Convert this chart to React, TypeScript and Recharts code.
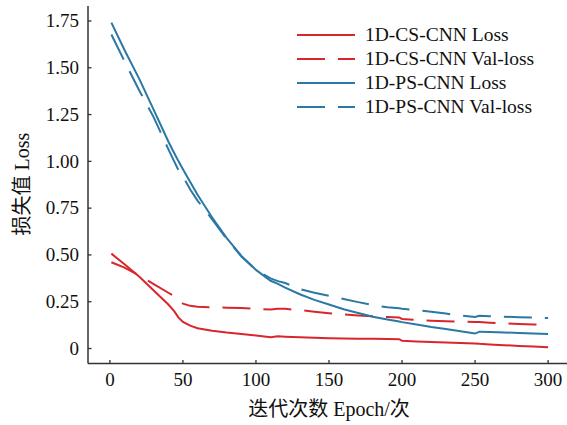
import React from "react";
import { LineChart, Line, XAxis, YAxis, Legend } from "recharts";

const epochs = [1, 10, 20, 30, 40, 44, 47, 50, 55, 60, 70, 80, 90, 100, 110, 115, 120, 130, 140, 150, 160, 170, 180, 190, 198, 200, 210, 220, 230, 240, 250, 253, 260, 270, 280, 290, 300];

const csLoss = [0.507, 0.45, 0.385, 0.31, 0.235, 0.2, 0.165, 0.142, 0.122, 0.108, 0.095, 0.085, 0.077, 0.07, 0.06, 0.065, 0.063, 0.06, 0.057, 0.055, 0.053, 0.052, 0.052, 0.051, 0.05, 0.042, 0.038, 0.035, 0.032, 0.029, 0.027, 0.025, 0.022, 0.018, 0.014, 0.011, 0.007];

const csVal = [0.461, 0.432, 0.39, 0.344, 0.298, 0.28, 0.255, 0.24, 0.228, 0.223, 0.22, 0.218, 0.216, 0.213, 0.208, 0.213, 0.212, 0.205, 0.197, 0.189, 0.182, 0.177, 0.172, 0.168, 0.166, 0.158, 0.152, 0.149, 0.146, 0.143, 0.142, 0.142, 0.138, 0.134, 0.131, 0.129, 0.127];

const psLoss = [1.741, 1.595, 1.442, 1.275, 1.106, 1.045, 1.0, 0.958, 0.89, 0.822, 0.7, 0.59, 0.495, 0.42, 0.362, 0.345, 0.325, 0.29, 0.26, 0.235, 0.21, 0.19, 0.17, 0.155, 0.144, 0.141, 0.128, 0.115, 0.104, 0.092, 0.08, 0.09, 0.088, 0.086, 0.083, 0.08, 0.078];

const psVal = [1.678, 1.535, 1.38, 1.235, 1.065, 1.0, 0.952, 0.92, 0.85, 0.79, 0.69, 0.585, 0.492, 0.42, 0.375, 0.36, 0.35, 0.318, 0.298, 0.282, 0.265, 0.248, 0.232, 0.22, 0.215, 0.213, 0.205, 0.197, 0.187, 0.176, 0.169, 0.175, 0.172, 0.17, 0.167, 0.165, 0.163];

const xTicks = [0, 50, 100, 150, 200, 250, 300];
const yTicks = [0, 0.25, 0.5, 0.75, 1.0, 1.25, 1.5, 1.75];
const yTickLabels = ["0", "0.25", "0.50", "0.75", "1.00", "1.25", "1.50", "1.75"];

const seriesNames = ["1D-CS-CNN Loss", "1D-CS-CNN Val-loss", "1D-PS-CNN Loss", "1D-PS-CNN Val-loss"];

const RED = "#d8262c";
const BLUE = "#2a78a4";
const FONT = "'Liberation Serif', 'Times New Roman', 'Noto Sans CJK SC', serif";
const DASH = "28 13";

const data = epochs.map((e, i) => ({
  epoch: e,
  csLoss: csLoss[i],
  csVal: csVal[i],
  psLoss: psLoss[i],
  psVal: psVal[i],
}));

const seriesDefs = [
  { key: "csLoss", name: seriesNames[0], color: RED, dash: undefined as string | undefined },
  { key: "csVal", name: seriesNames[1], color: RED, dash: DASH },
  { key: "psLoss", name: seriesNames[2], color: BLUE, dash: undefined as string | undefined },
  { key: "psVal", name: seriesNames[3], color: BLUE, dash: DASH },
];

const XTick = (props: any) => {
  const { x, y, payload } = props;
  return (
    <g>
      <line x1={x} y1={y} x2={x} y2={y - 3.5} stroke="#333" strokeWidth={1.3} />
      <text x={x} y={y + 22.5} textAnchor="middle" fontFamily={FONT} fontSize={19} fill="#111">
        {payload.value}
      </text>
    </g>
  );
};

const YTick = (props: any) => {
  const { x, y, payload } = props;
  const idx = yTicks.findIndex((t) => Math.abs(t - payload.value) < 1e-6);
  const label = idx >= 0 ? yTickLabels[idx] : String(payload.value);
  return (
    <g>
      <line x1={x} y1={y} x2={x + 3.5} y2={y} stroke="#333" strokeWidth={1.3} />
      <text x={x - 9} y={y + 6.3} textAnchor="end" fontFamily={FONT} fontSize={19} fill="#111">
        {label}
      </text>
    </g>
  );
};

const LegendContent = () => (
  <div style={{ fontFamily: FONT, fontSize: 19.5, color: "#111" }}>
    {seriesDefs.map((s) => (
      <div key={s.key} style={{ display: "flex", alignItems: "center", height: 24, whiteSpace: "nowrap" }}>
        <svg width={58} height={24} style={{ display: "block" }}>
          <line x1={0} y1={12} x2={58} y2={12} stroke={s.color} strokeWidth={2} strokeDasharray={s.dash} />
        </svg>
        <span style={{ marginLeft: 10, lineHeight: "24px" }}>{s.name}</span>
      </div>
    ))}
  </div>
);

export default function App() {
  return (
    <div style={{ position: "absolute", left: 0, top: 0, width: 567, height: 425, overflow: "hidden", background: "#fff" }}>
      <LineChart width={570} height={425} data={data} margin={{ top: 6, right: 0, bottom: 0, left: 0 }}>
        <XAxis
          dataKey="epoch"
          type="number"
          domain={[-15, 315]}
          ticks={xTicks}
          allowDataOverflow
          height={61.5}
          axisLine={{ stroke: "#333", strokeWidth: 1.5 }}
          tickLine={false}
          tickSize={0}
          tickMargin={0}
          tick={<XTick />}
          interval={0}
          label={{
            content: () => (
              <text x={329} y={416} textAnchor="middle" fontFamily={FONT} fontSize={20} fill="#111">
                迭代次数 Epoch/次
              </text>
            ),
          }}
        />
        <YAxis
          type="number"
          domain={[-0.08, 1.83]}
          ticks={yTicks}
          allowDataOverflow
          width={88}
          axisLine={{ stroke: "#333", strokeWidth: 1.5 }}
          tickLine={false}
          tickSize={0}
          tickMargin={0}
          tick={<YTick />}
          interval={0}
          label={{
            content: () => (
              <text
                x={0}
                y={0}
                transform="translate(29,184) rotate(-90)"
                textAnchor="middle"
                fontFamily={FONT}
                fontSize={20}
                fill="#111"
              >
                损失值 Loss
              </text>
            ),
          }}
        />
        <Legend
          layout="vertical"
          align="center"
          verticalAlign="middle"
          content={<LegendContent />}
          wrapperStyle={{ position: "absolute", left: 297, top: 23, width: 270, height: 96 }}
        />
        {seriesDefs.map((s) => (
          <Line
            key={s.key}
            type="linear"
            dataKey={s.key}
            name={s.name}
            stroke={s.color}
            strokeWidth={2}
            strokeDasharray={s.dash}
            dot={false}
            activeDot={false}
            isAnimationActive={false}
          />
        ))}
      </LineChart>
    </div>
  );
}
